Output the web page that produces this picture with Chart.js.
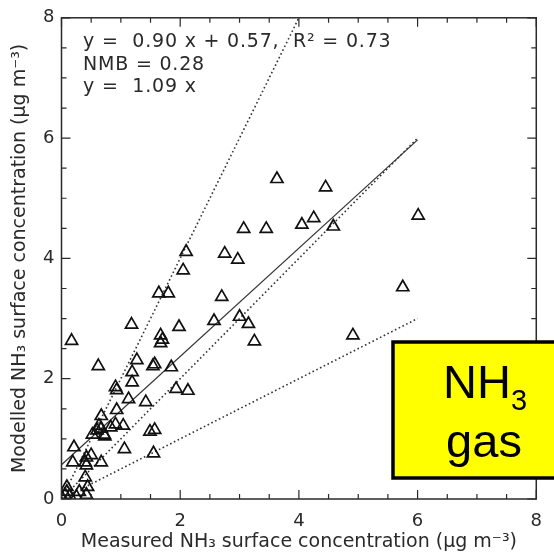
<!DOCTYPE html>
<html>
<head>
<meta charset="utf-8"/>
<style>
  html,body{margin:0;padding:0;background:#fff;}
  #wrap{width:554px;height:554px;}
</style>
</head>
<body>
<div id="wrap"><canvas id="c" width="554" height="554"></canvas></div>
<script src="https://cdn.jsdelivr.net/npm/chart.js@4.4.0/dist/chart.umd.min.js"></script>
<script>
// measured vs modelled NH3 (ug m-3)
const measured = [0.17,1.18,0.62,2.10,2.05,1.64,1.80,2.75,2.97,3.07,3.45,2.70,3.63,4.45,4.05,4.25,4.58,6.01,5.75,3.15,
  3.25,4.91,1.98,2.57,3.00,1.67,1.67,1.70,1.57,1.54,1.85,1.93,2.13,1.55,1.49,1.57,1.42,1.27,1.19,1.19,
  0.93,0.91,1.13,0.93,0.67,0.67,0.60,0.63,0.72,0.52,0.91,1.04,0.83,0.73,0.21,1.06,0.42,0.50,0.19,0.40,
  0.42,0.67,0.40,0.44,0.09,0.09,0.06,0.30,0.42,0.25,0.02,0.14];
const modelled = [2.63,2.90,2.21,4.11,3.80,3.42,3.42,4.08,3.98,4.49,4.49,3.36,5.32,5.18,4.56,4.67,4.53,4.71,3.52,2.91,
  2.62,2.72,2.86,2.96,3.03,2.72,2.59,2.65,2.24,2.21,2.19,1.83,1.80,0.76,1.12,1.15,1.61,2.31,2.11,1.94,
  1.81,1.86,1.66,1.48,1.38,1.17,1.14,1.22,1.07,1.07,1.24,1.22,1.19,1.04,0.86,0.83,0.69,0.73,0.61,0.61,
  0.56,0.61,0.36,0.20,0.20,0.12,0.07,0.12,0.07,0.04,0.00,0.05];

// reference lines (end points)
const fitX = [0, 6],   fitY = [0.57, 5.97];   // regression
const oneX = [0, 6],   oneY = [0, 6];         // 1:1
const twoX = [0, 4],   twoY = [0, 8];         // 2:1
const halfX = [0, 6],  halfY = [0, 3];        // 1:2

const axisMin = 0, axisMax = 8, majorStep = 2, minorStep = 0.5;
const statLines = ["y =  0.90 x + 0.57,  R\u00B2 = 0.73", "NMB = 0.28", "y =  1.09 x"];
const xTitle = "Measured NH\u2083 surface concentration (\u03BCg m\u207B\u00B3)";
const yTitle = "Modelled NH\u2083 surface concentration (\u03BCg m\u207B\u00B3)";

const pts = (xs, ys) => xs.map((v, i) => ({x: v, y: ys[i]}));
const INK = "#2a2a2a";
const FONT = "'DejaVu Sans', sans-serif";

const lineDs = (xs, ys, dotted) => ({
  type: "line", data: pts(xs, ys), borderColor: "#333", borderWidth: dotted ? 1.6 : 1.2,
  borderDash: dotted ? [1.6, 2.6] : [], pointRadius: 0, fill: false, tension: 0
});

const frame = {
  id: "frame",
  afterDatasetsDraw(chart) {
    const {ctx, chartArea: a, scales: {x, y}} = chart;
    ctx.save();
    ctx.strokeStyle = INK;
    ctx.lineWidth = 1.5;
    ctx.strokeRect(a.left, a.top, a.right - a.left, a.bottom - a.top);
    ctx.lineWidth = 1.2;
    ctx.beginPath();
    for (let v = axisMin; v <= axisMax + 1e-9; v += minorStep) {
      const len = Math.abs(v % majorStep) < 1e-9 ? 9 : 5;
      const px = x.getPixelForValue(v), py = y.getPixelForValue(v);
      ctx.moveTo(px, a.bottom); ctx.lineTo(px, a.bottom - len);
      ctx.moveTo(px, a.top);    ctx.lineTo(px, a.top + len);
      ctx.moveTo(a.left, py);   ctx.lineTo(a.left + len, py);
      ctx.moveTo(a.right, py);  ctx.lineTo(a.right - len, py);
    }
    ctx.stroke();
    ctx.restore();
  },
  afterDraw(chart) {
    const ctx = chart.ctx;
    ctx.save();
    // stats text
    ctx.fillStyle = INK;
    ctx.font = "19px " + FONT;
    ctx.letterSpacing = "0.8px";
    ctx.textBaseline = "alphabetic";
    statLines.forEach((t, i) => ctx.fillText(t, 83, 47 + i * 22.5));
    ctx.letterSpacing = "0px";
    // yellow label box
    ctx.fillStyle = "#FFFF00";
    ctx.fillRect(393, 342, 170, 136);
    ctx.strokeStyle = "#000";
    ctx.lineWidth = 3.5;
    ctx.strokeRect(393, 342, 170, 136);
    ctx.fillStyle = "#000";
    ctx.font = "47px 'Liberation Sans', Arial, sans-serif";
    const w1 = ctx.measureText("NH").width;
    ctx.font = "29px 'Liberation Sans', Arial, sans-serif";
    const w2 = ctx.measureText("3").width;
    const sx = 485 - (w1 + w2) / 2;
    ctx.font = "47px 'Liberation Sans', Arial, sans-serif";
    ctx.textAlign = "left";
    ctx.fillText("NH", sx, 398);
    ctx.font = "29px 'Liberation Sans', Arial, sans-serif";
    ctx.fillText("3", sx + w1, 410);
    ctx.font = "47px 'Liberation Sans', Arial, sans-serif";
    ctx.textAlign = "center";
    ctx.fillText("gas", 484, 457);
    ctx.restore();
  }
};

new Chart(document.getElementById("c"), {
  type: "scatter",
  data: {
    datasets: [
      { data: pts(measured, modelled), pointStyle: "triangle", pointRadius: 7, borderColor: "#111",
        borderWidth: 1.7, backgroundColor: "rgba(0,0,0,0)", order: 0 },
      lineDs(fitX, fitY, false),
      lineDs(oneX, oneY, true),
      lineDs(twoX, twoY, true),
      lineDs(halfX, halfY, true)
    ]
  },
  options: {
    responsive: false, animation: false, devicePixelRatio: 1,
    layout: { padding: { left: 0, right: 6, top: 12.7, bottom: 0 } },
    plugins: { legend: { display: false }, tooltip: { enabled: false } },
    scales: {
      x: {
        type: "linear", min: axisMin, max: axisMax,
        ticks: { stepSize: majorStep, font: { size: 18, family: FONT }, color: INK, padding: 12, maxRotation: 0 },
        grid: { display: false, drawTicks: false }, border: { display: false },
        title: { display: true, text: xTitle, font: { size: 19, family: FONT }, color: INK, padding: { top: 0, bottom: 1 } },
        afterFit(s) { s.height = 55; }
      },
      y: {
        type: "linear", min: axisMin, max: axisMax,
        ticks: { stepSize: majorStep, font: { size: 18, family: FONT }, color: INK, padding: 7 },
        grid: { display: false, drawTicks: false }, border: { display: false },
        title: { display: true, text: yTitle, font: { size: 19, family: FONT }, color: INK, padding: { top: 9, bottom: 0 } },
        afterFit(s) { s.width = 61.5; }
      }
    }
  },
  plugins: [frame]
});
</script>
</body>
</html>
